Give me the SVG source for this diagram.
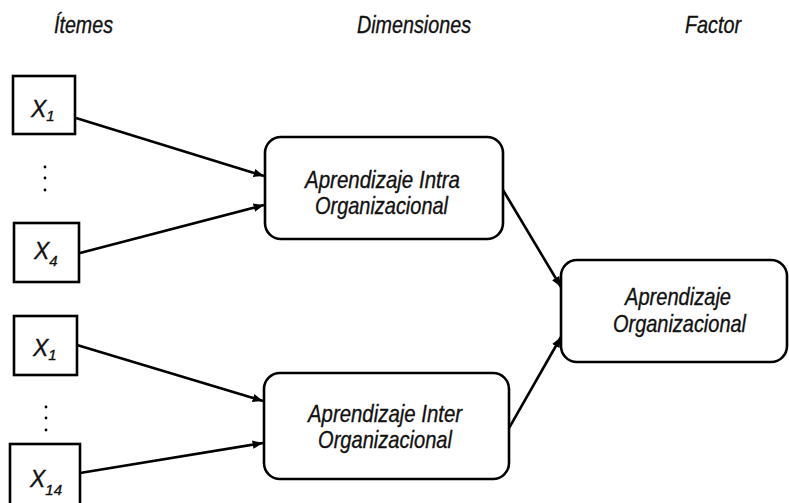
<svg xmlns="http://www.w3.org/2000/svg" width="789" height="503" viewBox="0 0 789 503">
<defs>
<style>
text{font-family:"Liberation Sans",Arial,sans-serif;font-style:italic;fill:#111;stroke:#111;stroke-width:0.35;}
.hdr{font-size:24px;}
.lbl{font-size:24px;}
.x{font-size:23px;}
.sub{font-size:15px;}
.box{fill:#fff;stroke:#000;stroke-width:2.6;}
.conn line{stroke:#000;stroke-width:2.6;marker-end:url(#ah);}
.dot{fill:#000;}
</style>
<marker id="ah" viewBox="0 0 10 8" refX="10" refY="4" markerWidth="4" markerHeight="3.2" orient="auto" markerUnits="strokeWidth">
<path d="M0,0 L10,4 L0,8 z" fill="#000"/>
</marker>
</defs>
<rect width="789" height="503" fill="#fff"/>
<g id="headers">
<text class="hdr" x="54" y="33" textLength="59" lengthAdjust="spacingAndGlyphs">Ítemes</text>
<text class="hdr" x="357" y="33" textLength="114" lengthAdjust="spacingAndGlyphs">Dimensiones</text>
<text class="hdr" x="685" y="33" textLength="56" lengthAdjust="spacingAndGlyphs">Factor</text>
</g>
<g id="item-x1a">
<rect class="box" x="13" y="76" width="62" height="58"/>
<text class="x" x="31" y="117">X<tspan class="sub" dy="4">1</tspan></text>
</g>
<g id="dots-a">
<circle class="dot" cx="45" cy="167" r="1.4"/>
<circle class="dot" cx="45" cy="178" r="1.4"/>
<circle class="dot" cx="45" cy="190" r="1.4"/>
</g>
<g id="item-x4">
<rect class="box" x="14" y="223" width="65" height="59"/>
<text class="x" x="34" y="259">X<tspan class="sub" dy="7">4</tspan></text>
</g>
<g id="item-x1b">
<rect class="box" x="14" y="316" width="63" height="59"/>
<text class="x" x="33" y="356">X<tspan class="sub" dy="4">1</tspan></text>
</g>
<g id="dots-b">
<circle class="dot" cx="46" cy="407" r="1.4"/>
<circle class="dot" cx="46" cy="418" r="1.4"/>
<circle class="dot" cx="46" cy="430" r="1.4"/>
</g>
<g id="item-x14">
<rect class="box" x="10" y="444" width="70" height="62"/>
<text class="x" x="30" y="487">X<tspan class="sub" dy="8">14</tspan></text>
</g>
<g id="dim-intra">
<rect class="box" x="265" y="137" width="238" height="102" rx="16"/>
<text class="lbl" x="305" y="188" textLength="155" lengthAdjust="spacingAndGlyphs">Aprendizaje Intra</text>
<text class="lbl" x="315" y="214" textLength="133" lengthAdjust="spacingAndGlyphs">Organizacional</text>
</g>
<g id="dim-inter">
<rect class="box" x="264" y="373" width="245" height="106" rx="16"/>
<text class="lbl" x="308" y="422" textLength="154" lengthAdjust="spacingAndGlyphs">Aprendizaje Inter</text>
<text class="lbl" x="318" y="448" textLength="134" lengthAdjust="spacingAndGlyphs">Organizacional</text>
</g>
<g id="factor">
<rect class="box" x="561" y="260" width="226" height="102" rx="16"/>
<text class="lbl" x="625" y="305" textLength="106" lengthAdjust="spacingAndGlyphs">Aprendizaje</text>
<text class="lbl" x="613" y="332" textLength="133" lengthAdjust="spacingAndGlyphs">Organizacional</text>
</g>
<g id="connectors" class="conn">
<line x1="76" y1="118" x2="264" y2="176"/>
<line x1="80" y1="253" x2="264" y2="205"/>
<line x1="77" y1="345" x2="263" y2="401"/>
<line x1="80" y1="473" x2="263" y2="443"/>
<line x1="503" y1="190" x2="561" y2="287"/>
<line x1="509" y1="428" x2="561" y2="337"/>
</g>
</svg>
